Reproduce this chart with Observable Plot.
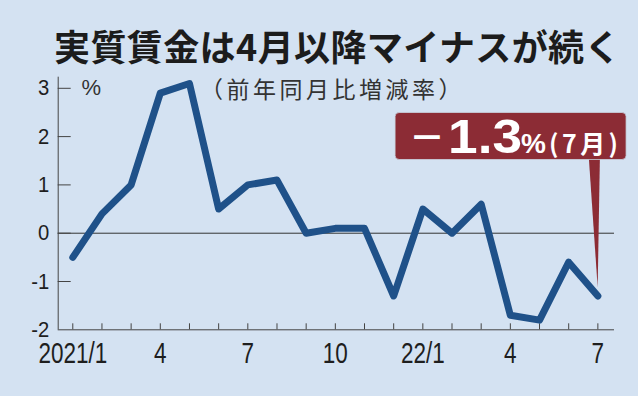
<!DOCTYPE html>
<html>
<head>
<meta charset="utf-8">
<script src="https://cdn.jsdelivr.net/npm/d3@7"></script>
<script src="https://cdn.jsdelivr.net/npm/@observablehq/plot@0.6"></script>
<style>
  html, body { margin: 0; padding: 0; background: #d4e2f2; }
  #wrap { position: relative; width: 638px; height: 396px; background: #d4e2f2; overflow: hidden; }
  #title { height: 70px; box-sizing: border-box; padding-top: 25px; padding-left: 54px;
    font-family: "Noto Sans CJK JP", sans-serif; font-weight: 700; font-size: 36px; line-height: 40px;
    letter-spacing: 0.4px; color: #1c1c1c; white-space: nowrap; }
  #sub { position: absolute; left: 200px; top: 76px; font-family: "Noto Sans CJK JP", sans-serif;
    font-weight: 400; font-size: 23px; line-height: 24px; color: #333; white-space: nowrap; letter-spacing: 3.5px; }
  svg { display: block; }
</style>
</head>
<body>
<div id="wrap">
  <div id="title">実質賃金は4月以降マイナスが続く</div>
  <div id="chart"></div>
  <div id="sub">（前年同月比増減率）</div>
</div>
<script>
const months = ["2021/1","2","3","4","5","6","7","8","9","10","11","12","22/1","2","3","4","5","6","7"];
const values = [-0.5, 0.4, 1.0, 2.9, 3.1, 0.5, 1.0, 1.1, 0.0, 0.1, 0.1, -1.3, 0.5, 0.0, 0.6, -1.7, -1.8, -0.6, -1.3];
const labelIdx = [0, 3, 6, 9, 12, 15, 18];
const yTicks = [-2, -1, 0, 1, 2, 3];
const unitLabel = "%";
const calloutMain = "1.3";
const calloutSign = "－";
const calloutUnit = "%";
const calloutMonth = "(7月)";

const W = 638, H = 326;
const mL = 57.7, mR = 24, mT = 6.7, mB = 66.7;
const frameW = W - mL - mR, frameH = H - mT - mB;
const sansFont = "'Liberation Sans', Arial, sans-serif";
const data = values.map((v, i) => ({i, v, m: months[i]}));
const last = data[data.length - 1];

function callout(index, scales) {
  const tx = scales.x(last.i), ty = scales.y(last.v);
  const bx = tx - 202.3, bw = 231, bh = 47, by = ty - 136 - bh;
  const g = d3.create("svg:g").attr("text-anchor", "start");
  g.append("path")
    .attr("d", `M${tx - 8.5},${by + bh - 1}L${tx + 2.5},${by + bh - 1}L${tx + 0.3},${ty - 8}Z`)
    .attr("fill", "#8c2c35");
  g.append("rect").attr("x", bx).attr("y", by).attr("width", bw).attr("height", bh)
    .attr("rx", 4).attr("fill", "#8c2c35").attr("stroke", "#c9d3e0").attr("stroke-width", 0.8);
  const base = by + 41;
  const add = (x, txt, fam, size, len, adj) => {
    const t = g.append("text").attr("x", x).attr("y", base).text(txt)
      .attr("text-anchor", "start").attr("fill", "#fff")
      .attr("font-family", fam).attr("font-weight", 700).attr("font-size", size);
    if (len) t.attr("textLength", len).attr("lengthAdjust", adj);
    return t;
  };
  add(bx + 14, calloutSign, "'Noto Sans CJK JP', sans-serif", 36).attr("y", base - 2);
  add(bx + 53, calloutMain, sansFont, 49, 74, "spacingAndGlyphs");
  add(bx + 126, calloutUnit, sansFont, 28);
  add(bx + 154, calloutMonth, "'Noto Sans CJK JP', sans-serif", 25, 69, "spacing");
  return g.node();
}

const chart = Plot.plot({
  width: W, height: H,
  marginLeft: mL, marginRight: mR, marginTop: mT, marginBottom: mB,
  x: {domain: [-0.5, 18.57], axis: null},
  y: {domain: [-2, 3.23], axis: null},
  style: {background: "transparent", overflow: "visible"},
  marks: [
    Plot.ruleY([0], {stroke: "#333", strokeWidth: 1}),
    Plot.ruleX([-0.5], {stroke: "#444", strokeWidth: 1}),
    Plot.ruleY([-2], {stroke: "#444", strokeWidth: 1}),
    Plot.tickY(yTicks.filter(d => d !== -2), {y: d => d, stroke: "#444", insetRight: frameW - 13}),
    Plot.tickX(data, {x: "i", stroke: "#444", insetTop: frameH - 6}),
    Plot.text(yTicks, {y: d => d, text: d => String(d), frameAnchor: "left", lineAnchor: "middle", dx: -9, textAnchor: "end",
      fontSize: 22, fontFamily: sansFont, fill: "#1e1e1e", ariaDescription: "ylabels"}),
    Plot.text(labelIdx, {x: d => d, text: d => months[d], frameAnchor: "bottom", lineAnchor: "middle", dy: 24,
      fontSize: 30, fontFamily: sansFont, fill: "#1e1e1e", ariaDescription: "xlabels"}),
    Plot.text([3], {y: d => d, text: () => unitLabel, frameAnchor: "left", lineAnchor: "middle", dx: 33, textAnchor: "middle",
      fontSize: 22, fontFamily: sansFont, fill: "#333"}),
    callout,
    Plot.line(data, {x: "i", y: "v", stroke: "#1f5189", strokeWidth: 7, strokeLinejoin: "round", strokeLinecap: "round"})
  ]
});

// condense the axis label glyphs horizontally (the reference uses a narrow face);
// the vertical line offset (y attribute, e.g. "0.32em") is kept untouched
function condense(desc, sx) {
  d3.select(chart).selectAll(`g[aria-description="${desc}"] text`).each(function() {
    const el = d3.select(this);
    const x = +el.attr("x") || 0;
    const t = el.attr("transform") || "";
    el.attr("x", null).attr("transform", `${t} translate(${x},0) scale(${sx},1)`);
  });
}
condense("xlabels", 0.75);
condense("ylabels", 0.92);

document.getElementById("chart").appendChild(chart);
</script>
</body>
</html>
